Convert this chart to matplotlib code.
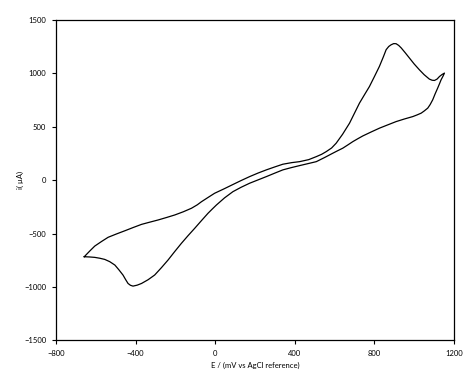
import numpy as np
import matplotlib
matplotlib.use("Agg")
import matplotlib.pyplot as plt

# forward scan (negative -> positive)
fwd_E = [-658, -630, -605, -570, -538, -495, -454, -410, -370, -330, -287, -245,
         -203, -160, -119, -90, -69, -35, -3, 45, 89, 130, 173, 215, 257, 300,
         340, 385, 424, 470, 508, 535, 558, 585, 608, 640, 675, 700, 725, 750,
         775, 800, 825, 845, 859, 872, 884, 897, 909, 922, 935, 955, 976, 1000,
         1026, 1050, 1076, 1090, 1102, 1115, 1127, 1140, 1152]
fwd_i = [-716, -662, -616, -572, -534, -502, -473, -441, -413, -393, -372, -349,
         -325, -295, -262, -230, -201, -160, -122, -80, -40, -3, 34, 67, 97, 125,
         150, 165, 174, 193, 221, 243, 268, 302, 347, 430, 534, 628, 722, 800,
         877, 970, 1065, 1155, 1222, 1252, 1268, 1279, 1278, 1262, 1238, 1193,
         1144, 1088, 1034, 988, 947, 936, 934, 947, 971, 990, 1003]

# reverse scan (positive -> negative)
rev_E = [1152, 1145, 1135, 1127, 1118, 1105, 1093, 1080, 1068, 1050, 1035, 1015,
         993, 950, 909, 868, 826, 785, 742, 717, 692, 666, 641, 615, 591, 550,
         508, 465, 424, 380, 340, 300, 257, 215, 173, 130, 89, 47, 6, -15, -36,
         -70, -103, -137, -170, -204, -237, -270, -304, -337, -370, -392, -413,
         -426, -438, -450, -463, -484, -504, -530, -555, -580, -605, -632, -658]
rev_i = [1003, 975, 940, 903, 863, 808, 753, 708, 675, 648, 628, 612, 596, 573,
         549, 519, 488, 453, 415, 389, 362, 330, 300, 276, 253, 213, 174, 155,
         137, 117, 97, 67, 34, 3, -28, -66, -107, -165, -232, -270, -309, -380,
         -450, -520, -591, -669, -747, -818, -887, -931, -966, -982, -991, -983,
         -966, -930, -888, -838, -794, -762, -741, -730, -722, -718, -716]

x_ticks = [-800, -400, 0, 400, 800, 1200]
y_ticks = [-1500, -1000, -500, 0, 500, 1000, 1500]

plt.rcParams["font.family"] = ["Lato", "DejaVu Sans"]

fig = plt.figure(figsize=(4.76, 3.89), dpi=100)
ax = fig.add_axes([0.1176, 0.1247, 0.8362, 0.8239])

E = fwd_E + rev_E[1:]
i = fwd_i + rev_i[1:]
ax.plot(E, i, color="black", lw=0.9)

ax.set_xlim(-800, 1200)
ax.set_ylim(-1500, 1500)
ax.set_xticks(x_ticks)
ax.set_yticks(y_ticks)
ax.tick_params(direction="out", length=3, width=0.8, labelsize=5.5, pad=4,
               top=False, right=False)
for s in ax.spines.values():
    s.set_linewidth(0.9)

ax.set_xlabel("E / (mV vs AgCl reference)", fontsize=5.5, labelpad=3)
ax.set_ylabel("i( µA)", fontsize=5.5, labelpad=0)

fig.savefig("out.png", dpi=100)
